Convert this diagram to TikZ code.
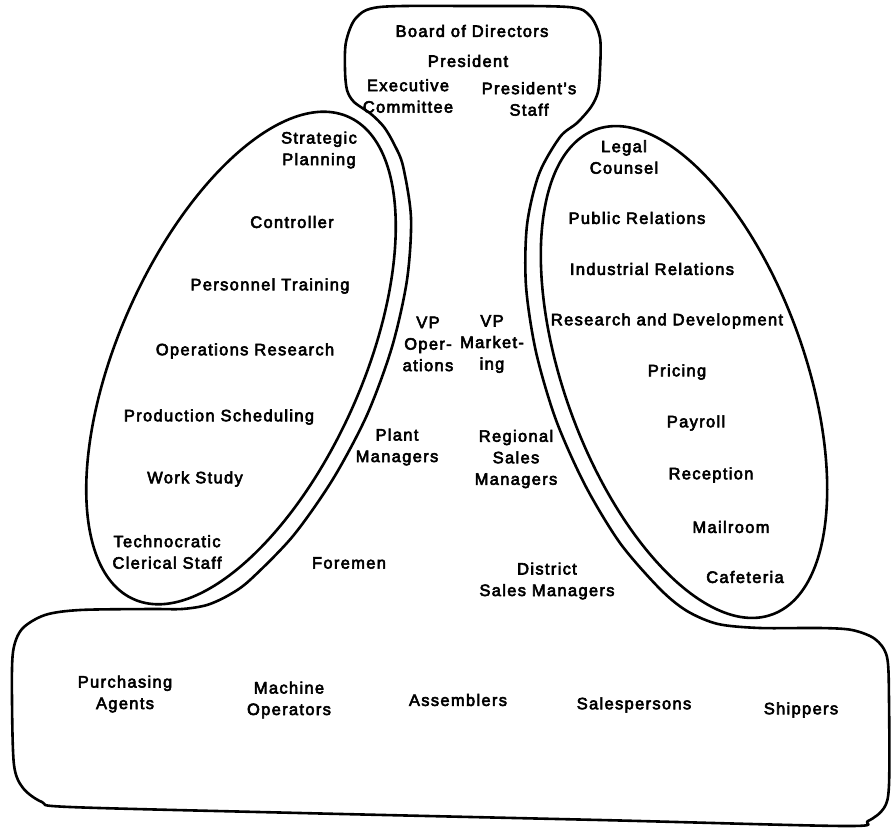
\documentclass[tikz,border=0pt]{standalone}
\usepackage{fontspec}
\setmainfont{Liberation Sans}[LetterSpace=8,FakeBold=3.5]
\begin{document}
\begin{tikzpicture}[x=1pt,y=-1pt,
  shape line/.style={line width=2.6pt, line join=round, line cap=round},
  lbl/.style={font=\fontsize{16.5}{21.5}\selectfont, align=center, inner sep=0pt}]
\useasboundingbox (0,0) rectangle (892,830);

% outer contour: strategic apex, middle line and operating core
\draw[shape line] plot[smooth cycle, tension=0.5] coordinates {
 (345,70) (346,42) (356,18) (380,7) (470,6) (568,7) (590,16) (600,38) (600,70)
 (598,92) (591,107) (577,123) (560,137) (539,174) (527,225) (526,286) (536,352)
 (556,420) (585,485) (620,543) (660,589) (687,611) (718,624) (760,628) (820,628)
 (852,630) (875,639) (887,657) (889,700) (889,785) (884,808) (868,821) (845,826)
 (600,820) (300,813) (70,807) (42,802) (23,788) (14,765) (12,700) (13,652)
 (22,629) (45,615) (80,610) (150,609) (182,609) (207,605) (229,595) (250,580)
 (293,536) (333,479) (367,415) (392,347) (407,280) (411,218) (403,166) (394,144)
 (384,127) (371,114) (354,102) (347,90)};

% technostructure
\draw[shape line, rotate around={66:(241,358)}] (241,358) ellipse [x radius=264, y radius=122];

% support staff
\draw[shape line, rotate around={110:(684,372)}] (684,372) ellipse [x radius=258, y radius=120];

% strategic apex
\node[lbl] (board) at (472,31) {Board of Directors};
\node[lbl] (pres) at (468,61) {President};
\node[lbl] (exec) at (408,96) {Executive\\Committee};
\node[lbl] (pstaff) at (529,99) {President's\\Staff};

% technostructure
\node[lbl] (strat) at (319,150) {Strategic\\Planning};
\node[lbl] (ctrl) at (292,222) {Controller};
\node[lbl] (pers) at (270,286) {Personnel Training};
\node[lbl] (opres) at (245,351) {Operations Research};
\node[lbl] (prod) at (219,417) {Production Scheduling};
\node[lbl] (work) at (195,479) {Work Study};
\node[lbl] (techno) at (167,552) {Technocratic\\Clerical Staff};

% middle line
\node[lbl] (vpops) at (428,344) {VP\\Oper-\\ations};
\node[lbl] (vpmkt) at (492,344) {VP\\Market-\\ing};
\node[lbl] (plant) at (397,447) {Plant\\Managers};
\node[lbl] (regional) at (516,459) {Regional\\Sales\\Managers};
\node[lbl] (foremen) at (349,563) {Foremen};
\node[lbl] (district) at (547,581) {District\\Sales Managers};

% support staff
\node[lbl] (legal) at (624,157) {Legal\\Counsel};
\node[lbl] (pubrel) at (637,218) {Public Relations};
\node[lbl] (indrel) at (652,269) {Industrial Relations};
\node[lbl] (rnd) at (667,321) {Research and Development};
\node[lbl] (pricing) at (677,372) {Pricing};
\node[lbl] (payroll) at (696,423) {Payroll};
\node[lbl] (reception) at (711,475) {Reception};
\node[lbl] (mailroom) at (731,527) {Mailroom};
\node[lbl] (cafeteria) at (745,577) {Cafeteria};

% operating core
\node[lbl] (purch) at (125,694) {Purchasing\\Agents};
\node[lbl] (machine) at (289,700) {Machine\\Operators};
\node[lbl] (assem) at (458,700) {Assemblers};
\node[lbl] (sales) at (634,705) {Salespersons};
\node[lbl] (ship) at (801,710) {Shippers};
\end{tikzpicture}
\end{document}
